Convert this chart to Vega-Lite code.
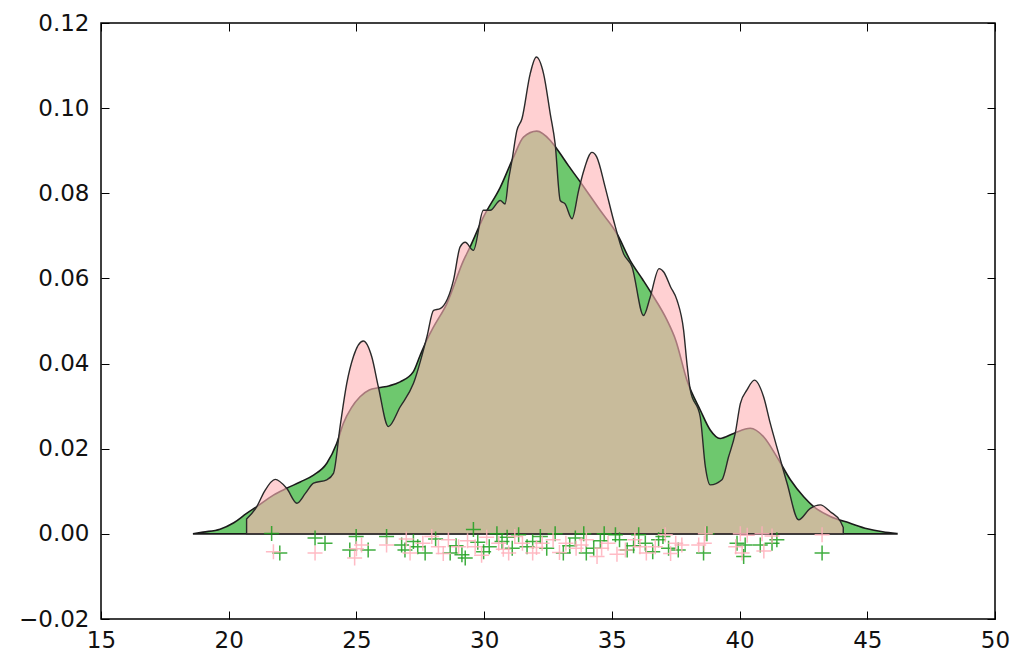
{
  "$schema": "https://vega.github.io/schema/vega-lite/v6.json",
  "width": 894,
  "height": 596,
  "autosize": {"type": "none"},
  "padding": {"left": 101, "top": 23, "right": 18, "bottom": 38},
  "background": "white",
  "config": {
    "view": {"stroke": "black", "strokeWidth": 1.5},
    "axis": {
      "domain": false,
      "grid": false,
      "tickSize": -8,
      "tickColor": "black",
      "tickWidth": 1,
      "labelFont": "DejaVu Sans",
      "labelFontSize": 23,
      "labelColor": "#111",
      "labelFlush": false,
      "title": null
    }
  },
  "datasets": {
    "smooth": [
      {"x": 18.6, "y": 0.0},
      {"x": 19.0, "y": 0.0004},
      {"x": 19.66, "y": 0.0011},
      {"x": 20.2, "y": 0.0026},
      {"x": 20.7, "y": 0.0048},
      {"x": 21.1, "y": 0.0064},
      {"x": 21.75, "y": 0.0091},
      {"x": 22.27, "y": 0.0107},
      {"x": 22.8, "y": 0.0122},
      {"x": 23.32, "y": 0.0138},
      {"x": 23.84, "y": 0.0166},
      {"x": 24.23, "y": 0.0213},
      {"x": 24.49, "y": 0.026},
      {"x": 24.8, "y": 0.0296},
      {"x": 25.14, "y": 0.0322},
      {"x": 25.5, "y": 0.0338},
      {"x": 25.86, "y": 0.0343},
      {"x": 26.3, "y": 0.0348},
      {"x": 26.71, "y": 0.0357},
      {"x": 27.23, "y": 0.0381},
      {"x": 27.5, "y": 0.042},
      {"x": 27.76, "y": 0.0456},
      {"x": 28.02, "y": 0.0486},
      {"x": 28.54, "y": 0.0541},
      {"x": 29.19, "y": 0.0642},
      {"x": 29.45, "y": 0.0674},
      {"x": 29.97, "y": 0.0744},
      {"x": 30.63, "y": 0.0814},
      {"x": 31.15, "y": 0.0885},
      {"x": 31.54, "y": 0.0932},
      {"x": 32.06, "y": 0.0946},
      {"x": 32.59, "y": 0.0924},
      {"x": 32.85, "y": 0.0904},
      {"x": 33.3, "y": 0.0865},
      {"x": 33.82, "y": 0.0822},
      {"x": 34.54, "y": 0.076},
      {"x": 35.2, "y": 0.0705},
      {"x": 35.72, "y": 0.0642},
      {"x": 36.2, "y": 0.0598},
      {"x": 36.56, "y": 0.0564},
      {"x": 37.16, "y": 0.0502},
      {"x": 37.5, "y": 0.0455},
      {"x": 37.94, "y": 0.0361},
      {"x": 38.46, "y": 0.0291},
      {"x": 38.85, "y": 0.0244},
      {"x": 39.24, "y": 0.0224},
      {"x": 39.77, "y": 0.0236},
      {"x": 40.42, "y": 0.0248},
      {"x": 40.94, "y": 0.0228},
      {"x": 41.46, "y": 0.0181},
      {"x": 41.99, "y": 0.0127},
      {"x": 42.51, "y": 0.0087},
      {"x": 42.9, "y": 0.0064},
      {"x": 43.55, "y": 0.0041},
      {"x": 44.33, "y": 0.0025},
      {"x": 45.0, "y": 0.0012},
      {"x": 45.6, "y": 0.0005},
      {"x": 46.16, "y": 0.0001}
    ],
    "spiky": [
      {"x": 20.7, "y": 0.0035},
      {"x": 21.1, "y": 0.0064},
      {"x": 21.4, "y": 0.01},
      {"x": 21.82, "y": 0.0128},
      {"x": 22.27, "y": 0.0107},
      {"x": 22.67, "y": 0.0072},
      {"x": 23.0, "y": 0.0095},
      {"x": 23.32, "y": 0.0119},
      {"x": 23.84, "y": 0.0127},
      {"x": 24.1, "y": 0.0142},
      {"x": 24.36, "y": 0.0252},
      {"x": 24.62, "y": 0.0353},
      {"x": 24.88, "y": 0.0416},
      {"x": 25.27, "y": 0.0453},
      {"x": 25.6, "y": 0.0416},
      {"x": 25.86, "y": 0.0345},
      {"x": 26.25, "y": 0.0252},
      {"x": 26.71, "y": 0.0298},
      {"x": 27.23, "y": 0.0353},
      {"x": 27.76, "y": 0.0463},
      {"x": 28.02, "y": 0.0525},
      {"x": 28.28, "y": 0.0529},
      {"x": 28.8, "y": 0.0596},
      {"x": 29.06, "y": 0.0674},
      {"x": 29.26, "y": 0.0685},
      {"x": 29.58, "y": 0.0666},
      {"x": 29.97, "y": 0.076},
      {"x": 30.24, "y": 0.076},
      {"x": 30.63, "y": 0.0783},
      {"x": 30.82, "y": 0.0775},
      {"x": 30.95, "y": 0.083},
      {"x": 31.09, "y": 0.0877},
      {"x": 31.28, "y": 0.0947},
      {"x": 31.48, "y": 0.0975},
      {"x": 31.8, "y": 0.108},
      {"x": 32.04, "y": 0.112},
      {"x": 32.33, "y": 0.108},
      {"x": 32.59, "y": 0.0986},
      {"x": 32.78, "y": 0.0916},
      {"x": 32.98, "y": 0.0783},
      {"x": 33.17, "y": 0.0775},
      {"x": 33.44, "y": 0.074},
      {"x": 33.7, "y": 0.0807},
      {"x": 33.9, "y": 0.0853},
      {"x": 34.22, "y": 0.0896},
      {"x": 34.41, "y": 0.0885},
      {"x": 34.74, "y": 0.0814},
      {"x": 35.07, "y": 0.0736},
      {"x": 35.46, "y": 0.0658},
      {"x": 35.79, "y": 0.0627},
      {"x": 36.24, "y": 0.0513},
      {"x": 36.5, "y": 0.0556},
      {"x": 36.85, "y": 0.0623},
      {"x": 37.03, "y": 0.0615},
      {"x": 37.3, "y": 0.058},
      {"x": 37.55, "y": 0.0549},
      {"x": 37.81, "y": 0.0478},
      {"x": 37.94, "y": 0.04},
      {"x": 38.07, "y": 0.0338},
      {"x": 38.46, "y": 0.0275},
      {"x": 38.66, "y": 0.0158},
      {"x": 38.85, "y": 0.0115},
      {"x": 39.31, "y": 0.0127},
      {"x": 39.57, "y": 0.0181},
      {"x": 39.83, "y": 0.0236},
      {"x": 40.03, "y": 0.0306},
      {"x": 40.29, "y": 0.0338},
      {"x": 40.58, "y": 0.0361},
      {"x": 40.94, "y": 0.0322},
      {"x": 41.2, "y": 0.026},
      {"x": 41.53, "y": 0.0189},
      {"x": 41.86, "y": 0.0119},
      {"x": 42.31, "y": 0.0033},
      {"x": 42.77, "y": 0.006},
      {"x": 43.16, "y": 0.0068},
      {"x": 43.55, "y": 0.0052},
      {"x": 43.95, "y": 0.0029},
      {"x": 44.06, "y": 0.0015}
    ],
    "rugGreen": [
      {"x": 21.68, "y": 0.0001}, {"x": 22.0, "y": -0.0045}, {"x": 23.38, "y": -0.001},
      {"x": 23.77, "y": -0.0022}, {"x": 24.99, "y": -0.0006}, {"x": 24.74, "y": -0.0038},
      {"x": 25.46, "y": -0.0038}, {"x": 26.18, "y": -0.0006}, {"x": 26.77, "y": -0.0026},
      {"x": 26.9, "y": -0.0038}, {"x": 27.23, "y": -0.0018}, {"x": 27.69, "y": -0.0045},
      {"x": 28.67, "y": -0.0045}, {"x": 29.13, "y": -0.0049}, {"x": 29.26, "y": -0.0057},
      {"x": 29.58, "y": 0.001}, {"x": 29.75, "y": -0.002}, {"x": 29.98, "y": -0.0042},
      {"x": 30.5, "y": 0.0}, {"x": 30.7, "y": -0.0018}, {"x": 31.1, "y": -0.0034},
      {"x": 31.35, "y": -0.0002}, {"x": 31.68, "y": -0.003}, {"x": 32.2, "y": -0.0006},
      {"x": 32.45, "y": -0.0034}, {"x": 32.78, "y": 0.0}, {"x": 33.1, "y": -0.0045},
      {"x": 33.57, "y": -0.001}, {"x": 33.9, "y": 0.0}, {"x": 34.29, "y": -0.0034},
      {"x": 34.7, "y": 0.0}, {"x": 35.14, "y": -0.0002}, {"x": 35.3, "y": -0.0014},
      {"x": 35.6, "y": -0.0038}, {"x": 36.05, "y": -0.0002}, {"x": 36.31, "y": -0.0022},
      {"x": 36.83, "y": -0.0014}, {"x": 37.22, "y": -0.0034}, {"x": 37.6, "y": -0.0038},
      {"x": 38.59, "y": -0.0045}, {"x": 38.72, "y": 0.0}, {"x": 39.9, "y": -0.0022},
      {"x": 40.22, "y": -0.0026}, {"x": 40.16, "y": -0.0053}, {"x": 40.81, "y": -0.0026},
      {"x": 41.27, "y": -0.0022}, {"x": 41.46, "y": -0.0014}, {"x": 43.23, "y": -0.0045},
      {"x": 27.4, "y": -0.003}, {"x": 28.1, "y": -0.0012}, {"x": 28.9, "y": -0.0028},
      {"x": 30.2, "y": -0.003}, {"x": 30.9, "y": -0.0008}, {"x": 31.9, "y": -0.0018},
      {"x": 33.35, "y": -0.0028}, {"x": 34.0, "y": -0.0045}, {"x": 34.55, "y": -0.0016},
      {"x": 35.85, "y": -0.0028}, {"x": 36.6, "y": -0.0042}, {"x": 37.0, "y": -0.0006}
    ],
    "rugPink": [
      {"x": 21.75, "y": -0.0042}, {"x": 23.38, "y": -0.0045}, {"x": 24.93, "y": -0.0057},
      {"x": 25.2, "y": -0.0026}, {"x": 25.0, "y": -0.0035}, {"x": 26.18, "y": -0.0026},
      {"x": 27.1, "y": -0.0045}, {"x": 27.95, "y": -0.0006}, {"x": 28.21, "y": -0.003},
      {"x": 28.6, "y": -0.0014}, {"x": 29.0, "y": -0.003}, {"x": 29.65, "y": -0.003},
      {"x": 29.9, "y": -0.005}, {"x": 30.57, "y": -0.0022}, {"x": 30.96, "y": -0.0045},
      {"x": 31.5, "y": -0.0022}, {"x": 31.9, "y": -0.0045}, {"x": 32.27, "y": -0.0022},
      {"x": 32.7, "y": -0.0014}, {"x": 33.2, "y": -0.0022}, {"x": 33.6, "y": -0.0034},
      {"x": 34.0, "y": -0.0014}, {"x": 34.42, "y": -0.0053}, {"x": 34.85, "y": -0.0022},
      {"x": 35.53, "y": -0.0038}, {"x": 35.9, "y": -0.0014}, {"x": 36.35, "y": -0.0045},
      {"x": 36.7, "y": -0.003}, {"x": 37.09, "y": -0.0002}, {"x": 37.5, "y": -0.0022},
      {"x": 37.74, "y": -0.0026}, {"x": 38.4, "y": -0.0026}, {"x": 38.66, "y": 0.0},
      {"x": 38.62, "y": -0.0022}, {"x": 40.03, "y": 0.0}, {"x": 39.85, "y": -0.003},
      {"x": 40.3, "y": -0.0003}, {"x": 40.1, "y": -0.0045}, {"x": 40.88, "y": 0.0},
      {"x": 40.95, "y": -0.004}, {"x": 41.27, "y": -0.0005}, {"x": 43.23, "y": -0.0002},
      {"x": 26.95, "y": -0.0012}, {"x": 27.6, "y": -0.0022}, {"x": 28.4, "y": -0.0046},
      {"x": 29.35, "y": -0.0016}, {"x": 30.1, "y": -0.0008}, {"x": 30.75, "y": -0.0036},
      {"x": 31.2, "y": -0.0006}, {"x": 32.05, "y": -0.0032}, {"x": 32.95, "y": -0.0044},
      {"x": 33.8, "y": -0.0026}, {"x": 34.6, "y": -0.0034}, {"x": 35.2, "y": -0.0048},
      {"x": 36.1, "y": -0.003}, {"x": 37.3, "y": -0.0046}
    ]
  },
  "layer": [
    {
      "data": {"name": "smooth"},
      "mark": {"type": "area", "fill": "#6ec86e", "stroke": "#1a1a1a", "strokeWidth": 1.6, "interpolate": "monotone"},
      "encoding": {
        "x": {"field": "x", "type": "quantitative", "scale": {"domain": [15, 50], "nice": false, "zero": false},
              "axis": {"orient": "bottom", "values": [15, 20, 25, 30, 35, 40, 45, 50], "labelPadding": 18}},
        "y": {"field": "y", "type": "quantitative", "scale": {"domain": [-0.02, 0.12], "nice": false, "zero": false},
              "axis": {"orient": "left", "values": [-0.02, 0, 0.02, 0.04, 0.06, 0.08, 0.1, 0.12], "format": ".2f", "labelPadding": 20}}
      }
    },
    {
      "data": {"name": "spiky"},
      "mark": {"type": "area", "fill": "#ffb3b6", "fillOpacity": 0.62, "stroke": "#2a2a2a", "strokeWidth": 1.4, "interpolate": "monotone"},
      "encoding": {
        "x": {"field": "x", "type": "quantitative", "scale": {"domain": [15, 50], "nice": false, "zero": false},
              "axis": {"orient": "top", "values": [15, 20, 25, 30, 35, 40, 45, 50], "labels": false}},
        "y": {"field": "y", "type": "quantitative", "scale": {"domain": [-0.02, 0.12], "nice": false, "zero": false},
              "axis": {"orient": "right", "values": [-0.02, 0, 0.02, 0.04, 0.06, 0.08, 0.1, 0.12], "labels": false}}
      }
    },
    {
      "data": {"name": "rugGreen"},
      "mark": {"type": "point", "shape": "M-1,0L1,0M0,-1L0,1", "size": 225, "stroke": "#1fa01f", "strokeWidth": 1.5, "opacity": 0.85, "filled": false},
      "encoding": {
        "x": {"field": "x", "type": "quantitative", "axis": null},
        "y": {"field": "y", "type": "quantitative", "axis": null}
      }
    },
    {
      "data": {"name": "rugPink"},
      "mark": {"type": "point", "shape": "M-1,0L1,0M0,-1L0,1", "size": 225, "stroke": "#ffb0bb", "strokeWidth": 1.5, "opacity": 0.85, "filled": false},
      "encoding": {
        "x": {"field": "x", "type": "quantitative", "axis": null},
        "y": {"field": "y", "type": "quantitative", "axis": null}
      }
    }
  ],
  "resolve": {"axis": {"x": "independent", "y": "independent"}}
}
